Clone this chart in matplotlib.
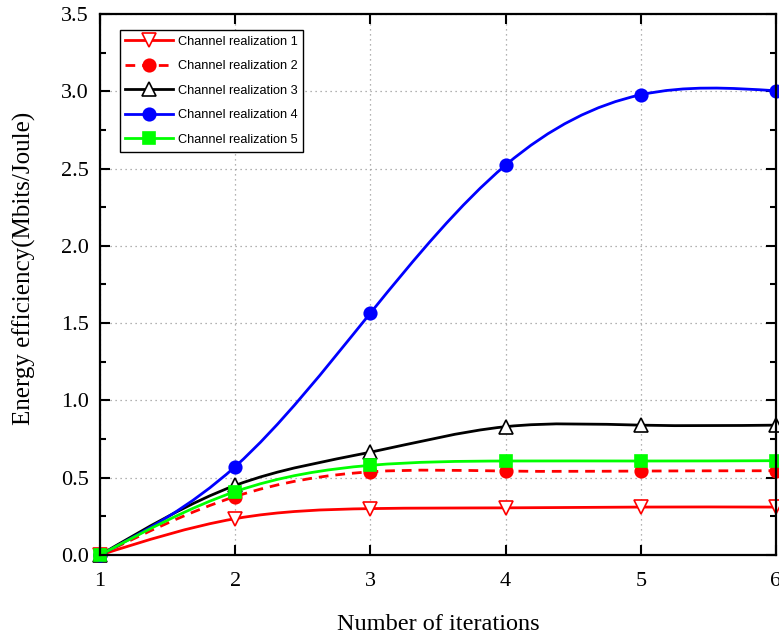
import matplotlib
matplotlib.use("Agg")
import matplotlib.pyplot as plt
import numpy as np
from matplotlib.lines import Line2D
from matplotlib.patches import PathPatch
from matplotlib.path import Path

iterations = [1, 2, 3, 4, 5, 6]

ee_real1 = [0.0, 0.235, 0.300, 0.305, 0.310, 0.310]
ee_real2 = [0.0, 0.378, 0.538, 0.543, 0.543, 0.545]
ee_real3 = [0.0, 0.450, 0.665, 0.830, 0.840, 0.840]
ee_real4 = [0.0, 0.572, 1.565, 2.522, 2.977, 3.003]
ee_real5 = [0.0, 0.410, 0.580, 0.608, 0.608, 0.610]

labels = [f"Channel realization {i}" for i in range(1, 6)]

STYLES = [
    dict(color="#ff0000", ls="-", marker="v", mfc="white", ms=10),
    dict(color="#ff0000", ls=(0, (3.5, 2.5)), marker="o", mfc="#ff0000", ms=9),
    dict(color="black", ls="-", marker="^", mfc="white", ms=10),
    dict(color="#0000ff", ls="-", marker="o", mfc="#0000ff", ms=9),
    dict(color="#00ff00", ls="-", marker="s", mfc="#00ff00", ms=8),
]


def spline_path(x, y):
    # natural cubic spline through the points, written as cubic Bezier segments
    x = np.asarray(x, dtype=float)
    y = np.asarray(y, dtype=float)
    n = len(x)
    h = np.diff(x)
    a = np.zeros((n, n))
    b = np.zeros(n)
    a[0, 0] = a[-1, -1] = 1.0
    for i in range(1, n - 1):
        a[i, i - 1] = h[i - 1]
        a[i, i] = 2 * (h[i - 1] + h[i])
        a[i, i + 1] = h[i]
        b[i] = 6 * ((y[i + 1] - y[i]) / h[i] - (y[i] - y[i - 1]) / h[i - 1])
    m = np.linalg.solve(a, b)
    verts = [(x[0], y[0])]
    codes = [Path.MOVETO]
    for i in range(n - 1):
        hi = h[i]
        s = (y[i + 1] - y[i]) / hi
        d0 = s - hi * (2 * m[i] + m[i + 1]) / 6
        d1 = s + hi * (m[i] + 2 * m[i + 1]) / 6
        verts += [(x[i] + hi / 3, y[i] + d0 * hi / 3),
                  (x[i + 1] - hi / 3, y[i + 1] - d1 * hi / 3),
                  (x[i + 1], y[i + 1])]
        codes += [Path.CURVE4] * 3
    return Path(verts, codes)


fig = plt.figure(figsize=(7.79, 6.35), dpi=100)
ax = fig.add_axes([0.1284, 0.126, 0.8677, 0.852])

series = [ee_real1, ee_real2, ee_real3, ee_real4, ee_real5]
handles = []
for vals, st, lab in zip(series, STYLES, labels):
    patch = PathPatch(spline_path(iterations, vals), fill=False, edgecolor=st["color"],
                      linewidth=2.0, linestyle=st["ls"], capstyle="butt")
    ax.add_patch(patch)
    ax.plot(iterations, vals, linestyle="none", marker=st["marker"], markersize=st["ms"],
            markerfacecolor=st["mfc"], markeredgecolor=st["color"], markeredgewidth=1.2,
            clip_on=False, zorder=patch.get_zorder() + 0.1)
    handles.append(Line2D([], [], color=st["color"], linestyle=st["ls"], linewidth=2.0,
                          marker=st["marker"], markersize=st["ms"],
                          markerfacecolor=st["mfc"], markeredgecolor=st["color"],
                          markeredgewidth=1.2))

ax.set_xlim(1, 6)
ax.set_ylim(0, 3.5)
ax.set_xticks(iterations)
ax.set_yticks(np.arange(0, 3.51, 0.5))
ax.set_yticks(np.arange(0.25, 3.5, 0.5), minor=True)
ax.set_yticklabels([f"{v:.1f}" for v in np.arange(0, 3.51, 0.5)])

ax.grid(True, which="major", linestyle=(0, (1, 3)), color="#999999", linewidth=0.9)
ax.set_axisbelow(True)
for sp in ax.spines.values():
    sp.set_linewidth(1.6)
ax.tick_params(which="major", direction="in", length=7.5, width=1.5, top=True, right=True,
               labelsize=16)
ax.tick_params(axis="x", which="major", pad=12)
ax.tick_params(axis="y", which="major", pad=8)
ax.tick_params(which="minor", direction="in", length=4.5, width=1.5, top=True, right=True)
for t in ax.get_xticklabels() + ax.get_yticklabels():
    t.set_fontfamily("Liberation Serif")

ax.set_xlabel("Number of iterations", fontfamily="Liberation Serif", fontsize=17.5,
              labelpad=17)
ax.set_ylabel("Energy efficiency(Mbits/Joule)", fontfamily="Liberation Serif", fontsize=18)
ax.yaxis.set_label_coords(-0.095, 0.53)

leg = ax.legend(handles, labels, loc="upper left", bbox_to_anchor=(0.029, 0.9704),
                prop={"family": "Liberation Sans", "size": 9.2}, handlelength=3.7,
                numpoints=1, fancybox=False, framealpha=1,
                edgecolor="black", borderpad=0.45, borderaxespad=0, labelspacing=0.98,
                handletextpad=0.4)
leg.get_frame().set_linewidth(1.0)

fig.savefig("out.png", dpi=100)
